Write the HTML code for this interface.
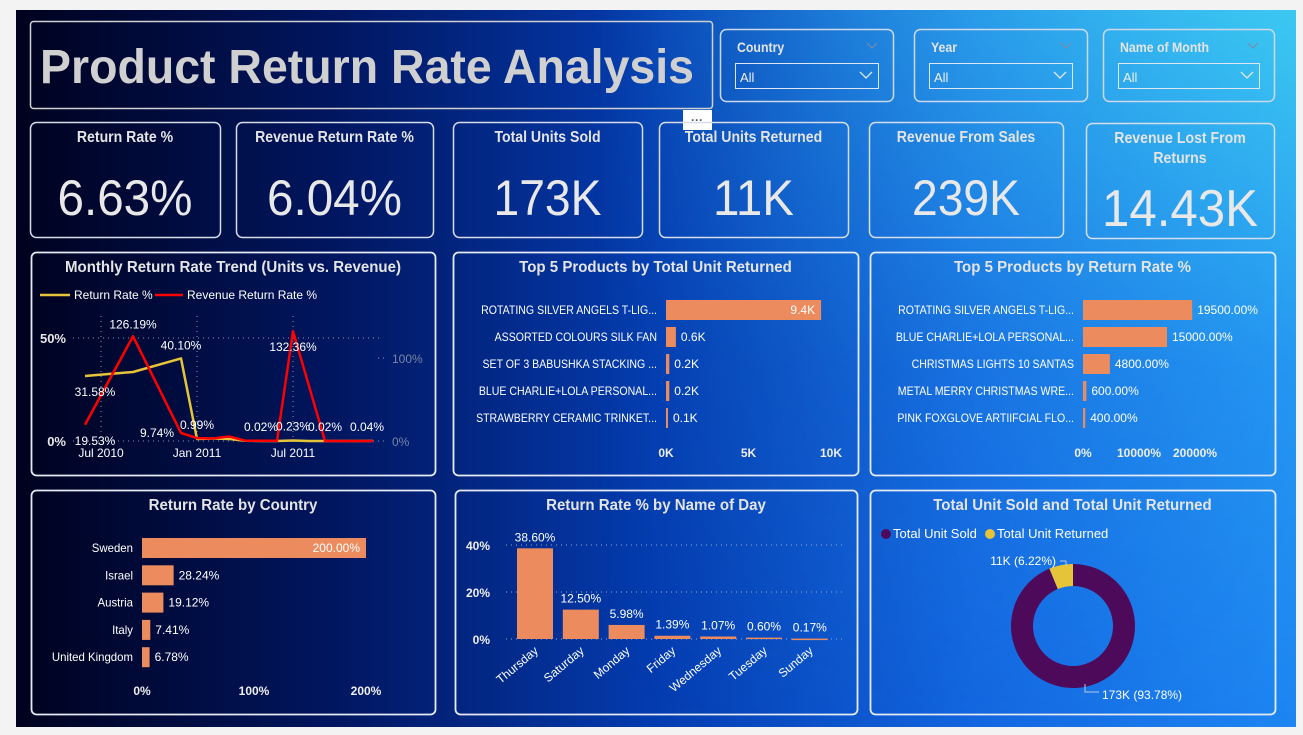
<!DOCTYPE html>
<html><head><meta charset="utf-8">
<style>
html,body{margin:0;padding:0;background:#f3f3f3;width:1303px;height:735px;overflow:hidden}
svg{display:block;font-family:"Liberation Sans",sans-serif}
.t{fill:#e4e4e4;font-weight:bold}
.w{fill:#fff}
</style></head><body>
<svg id="s" width="1303" height="735" viewBox="0 0 1303 735">
<defs>
<linearGradient id="bg" x1="0" y1="0" x2="1" y2="0">
<stop offset="0" stop-color="#00021e"/><stop offset="0.25" stop-color="#011660"/>
<stop offset="0.5" stop-color="#043cb0"/><stop offset="0.75" stop-color="#1366e0"/>
<stop offset="1" stop-color="#1d86f2"/></linearGradient>
<linearGradient id="cy" x1="0" y1="0" x2="0" y2="1">
<stop offset="0" stop-color="#3cc8f0" stop-opacity="1"/><stop offset="0.5" stop-color="#3cc8f0" stop-opacity="0.25"/><stop offset="1" stop-color="#3cc8f0" stop-opacity="0"/></linearGradient>
<linearGradient id="cx" x1="0" y1="0" x2="1" y2="0">
<stop offset="0.45" stop-color="#fff" stop-opacity="0"/><stop offset="1" stop-color="#fff" stop-opacity="1"/></linearGradient>
<mask id="m"><rect x="16" y="10" width="1280" height="717" fill="url(#cx)"/></mask>
</defs>
<rect x="16" y="10" width="1280" height="717" fill="url(#bg)"/>
<rect x="16" y="10" width="1280" height="717" fill="url(#cy)" mask="url(#m)"/>

<g>
<rect x="30.5" y="21.5" width="682" height="87" rx="3" fill="none" stroke="#d0d0d0" stroke-width="1.5"/>
<text x="40" y="83" font-size="48" font-weight="bold" fill="#d0d0d0" textLength="654" lengthAdjust="spacingAndGlyphs">Product Return Rate Analysis</text>
</g>
<g id="slicers"></g>
<rect x="683" y="110" width="29" height="20" fill="#fff"/>
<text x="697" y="124" font-size="12" text-anchor="middle" fill="#555" font-weight="bold">···</text>
<g id="kpis"></g>
<g id="panels"></g>
<g id="line"></g>
<g id="bars1"></g>
<g id="bars2"></g>
<g id="country"></g>
<g id="day"></g>
<g id="donut"></g>
</svg>
<script>
// ---- data ----
const kpiTitles=["Return Rate %","Revenue Return Rate %","Total Units Sold","Total Units Returned","Revenue From Sales","Revenue Lost From Returns"];
const kpiValues=["6.63%","6.04%","173K","11K","239K","14.43K"];
const months=["Jun 2010","Jul 2010","Aug 2010","Sep 2010","Oct 2010","Nov 2010","Dec 2010","Jan 2011","Feb 2011","Mar 2011","Apr 2011","May 2011","Jun 2011","Jul 2011","Aug 2011","Sep 2011","Oct 2011","Nov 2011","Dec 2011"];
const returnRate=[31.58,null,null,33.5,null,null,40.10,0.99,1.2,1.0,0.1,0.02,0.02,0.23,0.02,0.02,0.02,0.02,0.04];
const revenueRate=[19.53,null,null,126.19,null,null,9.74,3.5,3,5.5,0.5,0.3,0.3,132.36,null,0.02,0.02,0.02,0.04];
const top5Units=["ROTATING SILVER ANGELS T-LIG...","ASSORTED COLOURS SILK FAN","SET OF 3 BABUSHKA STACKING ...","BLUE CHARLIE+LOLA PERSONAL...","STRAWBERRY CERAMIC TRINKET..."];
const top5UnitVals=[9.4,0.6,0.2,0.2,0.1];
const top5UnitTicks=[0,5,10];
const top5Rate=["ROTATING SILVER ANGELS T-LIG...","BLUE CHARLIE+LOLA PERSONAL...","CHRISTMAS LIGHTS 10 SANTAS","METAL MERRY CHRISTMAS WRE...","PINK FOXGLOVE ARTIIFCIAL FLO..."];
const top5RateVals=[19500,15000,4800,600,400];
const top5RateTicks=[0,10000,20000];
const countries=["Sweden","Israel","Austria","Italy","United Kingdom"];
const countryVals=[200,28.24,19.12,7.41,6.78];
const countryTicks=[0,100,200];
const days=["Thursday","Saturday","Monday","Friday","Wednesday","Tuesday","Sunday"];
const dayVals=[38.60,12.50,5.98,1.39,1.07,0.60,0.17];
const dayTicks=[0,20,40];
const donutLabels=["Total Unit Sold","Total Unit Returned"];
const donutVals=[173,11.47];
const donutText=["173K (93.78%)","11K (6.22%)"];

const NS="http://www.w3.org/2000/svg";
function mk(p,tag,a,txt){const e=document.createElementNS(NS,tag);for(const k in a)e.setAttribute(k,a[k]);if(txt!==undefined)e.textContent=txt;p.appendChild(e);return e;}
function cond(e,f){const L=e.getComputedTextLength();if(L>0){e.setAttribute('textLength',L*f);e.setAttribute('lengthAdjust','spacingAndGlyphs');}return e;}
const $=id=>document.getElementById(id);

// slicers
const sl=[["Country",720,173],["Year",914,173],["Name of Month",1103,171]];
sl.forEach(s=>{const g=mk($("slicers"),"g",{});


mk(g,"rect",{x:s[1]+.5,y:29.5,width:s[2],height:72,rx:6,fill:"none",stroke:"#cfd8e8","stroke-width":1.5});
cond(mk(g,"text",{x:s[1]+17,y:52,"font-size":14,class:"t"},s[0]),0.88);
mk(g,"path",{d:`M${s[1]+s[2]-26} 43 l5 5 l5 -5`,stroke:"#7a8aa8",fill:"none","stroke-width":1.2});
mk(g,"rect",{x:s[1]+15.5,y:63.5,width:s[2]-30,height:25,fill:"none",stroke:"#dfe6f0","stroke-width":1});
mk(g,"text",{x:s[1]+20,y:82,"font-size":13,fill:"#f0f0f0"},"All");
mk(g,"path",{d:`M${s[1]+s[2]-33} 72 l6 6 l6 -6`,stroke:"#e0e8f0",fill:"none","stroke-width":1.3});
});

// KPI cards
const kb=[[30,122,190,115],[236,122,197,115],[453,122,189,115],[659,122,189,115],[869,122,194,115],[1086,123,188,115]];
kb.forEach((b,i)=>{const g=mk($("kpis"),"g",{});


mk(g,"rect",{x:b[0]+.5,y:b[1]+.5,width:b[2],height:b[3],rx:6,fill:"none",stroke:"#d6dde8","stroke-width":1.5});
const cx=b[0]+b[2]/2;
if(i==5){cond(mk(g,"text",{x:cx,y:143,"font-size":16,class:"t","text-anchor":"middle"},"Revenue Lost From"),0.88);
cond(mk(g,"text",{x:cx,y:163,"font-size":16,class:"t","text-anchor":"middle"},"Returns"),0.88);
mk(g,"text",{x:cx,y:226,"font-size":52,fill:"#e8e8e8","text-anchor":"middle",textLength:156,lengthAdjust:"spacingAndGlyphs"},kpiValues[i]);}
else{cond(mk(g,"text",{x:cx,y:142,"font-size":16,class:"t","text-anchor":"middle"},kpiTitles[i]),0.88);
const L=kpiValues[i].length*27;
mk(g,"text",{x:cx,y:215,"font-size":50,fill:"#e8e8e8","text-anchor":"middle",textLength:L,lengthAdjust:"spacingAndGlyphs"},kpiValues[i]);}
});

// panels
const pn=[[31,252,404,223,"Monthly Return Rate Trend (Units vs. Revenue)"],[453,252,405,223,"Top 5 Products by Total Unit Returned"],[870,252,405,223,"Top 5 Products by Return Rate %"],
[31,490,404,224,"Return Rate by Country"],[455,490,402,224,"Return Rate % by Name of Day"],[870,490,405,224,"Total Unit Sold and Total Unit Returned"]];
pn.forEach(p=>{const g=mk($("panels"),"g",{});


mk(g,"rect",{x:p[0]+.5,y:p[1]+.5,width:p[2],height:p[3],rx:5,fill:"none",stroke:"#e6eaf2","stroke-width":1.8});
cond(mk(g,"text",{x:p[0]+p[2]/2,y:p[1]+20,"font-size":16,class:"t","text-anchor":"middle"},p[4]),0.94);});

// line chart
(function(){const g=$("line");
const X=i=>85+16*i, YL=v=>441-v*103/50, YR=v=>441-v*83/100;
mk(g,"line",{x1:40,y1:295,x2:70,y2:295,stroke:"#e6c43a","stroke-width":2.5});
mk(g,"text",{x:74,y:299,"font-size":12,class:"w"},"Return Rate %");
mk(g,"line",{x1:155,y1:295,x2:183,y2:295,stroke:"#ff0000","stroke-width":2.5});
mk(g,"text",{x:187,y:299,"font-size":12,class:"w"},"Revenue Return Rate %");
[[50,"50%"],[0,"0%"]].forEach(t=>{mk(g,"line",{x1:73,y1:YL(t[0]),x2:380,y2:YL(t[0]),stroke:"#8c96b4","stroke-dasharray":"1 4"});
mk(g,"text",{x:66,y:YL(t[0])+5,"font-size":13,"font-weight":"bold",fill:"#e8e8e8","text-anchor":"end"},t[1]);});
[[100,"100%"],[0,"0%"]].forEach(t=>{mk(g,"line",{x1:378,y1:YR(t[0]),x2:386,y2:YR(t[0]),stroke:"#8c96b4","stroke-dasharray":"1 4"});
mk(g,"text",{x:392,y:YR(t[0])+5,"font-size":12,fill:"#7886a6"},t[1]);});
[[1,"Jul 2010"],[7,"Jan 2011"],[13,"Jul 2011"]].forEach(t=>{mk(g,"line",{x1:X(t[0]),y1:316,x2:X(t[0]),y2:441,stroke:"#8c96b4","stroke-dasharray":"1 4"});
mk(g,"text",{x:X(t[0]),y:457,"font-size":12,class:"w","text-anchor":"middle"},t[1]);});
function path(vals,Y){let d="";vals.forEach((v,i)=>{if(v===null)return;d+=(d?"L":"M")+X(i)+" "+Y(v);});return d;}
const yl=mk(g,"path",{d:path(returnRate,YL),fill:"none",stroke:"#e6c43a","stroke-width":2.5,"stroke-linejoin":"round"});


const rl=mk(g,"path",{d:path(revenueRate,YR),fill:"none",stroke:"#ff0000","stroke-width":2.5,"stroke-linejoin":"round"});


const labs=[[0,"r",10,20],[3,"r",0,-8],[6,"y",0,-9],[0,"y",10,20],[6,"r",-24,4],[7,"y",0,-10],[12,"y",-16,-10],[13,"y",0,-10],[15,"y",0,-10],[18,"y",-6,-4],[13,"r",0,20]];
labs.forEach(l=>{const v=l[1]=="r"?revenueRate[l[0]]:returnRate[l[0]];const y=l[1]=="r"?YR(v):YL(v);
let yy=y+l[3];if(l[0]>=7&&l[3]<0&&l[1]=="y")yy=Math.min(yy,431);if(l[0]==0&&l[1]=="r")yy=Math.max(yy,444);
mk(g,"text",{x:X(l[0])+l[2],y:yy,"font-size":12,class:"w","text-anchor":"middle"},v.toFixed(2)+"%");});
})();

// horizontal bars generic
function hbars(gid,cats,vals,ticks,x0,pxPer,y0,step,h,labX,fmt,tickFmt,tickY,valInside,nm,lf){const g=$(gid);
ticks.forEach(t=>{mk(g,"text",{x:x0+t*pxPer,y:tickY,"font-size":12,"font-weight":"bold",fill:"#eee","text-anchor":"middle"},tickFmt(t));});
cats.forEach((c,i)=>{const y=y0+i*step;
cond(mk(g,"text",{x:labX,y:y+4,"font-size":12,class:"w","text-anchor":"end"},c),lf);
const w=Math.max(vals[i]*pxPer,2);
const r=mk(g,"rect",{x:x0,y:y-h/2,width:w,height:h,fill:"#ec8b5e"});


if(valInside(i))mk(g,"text",{x:x0+w-6,y:y+4,"font-size":12,class:"w","text-anchor":"end"},fmt(vals[i]));
else mk(g,"text",{x:x0+w+5,y:y+4,"font-size":12,class:"w"},fmt(vals[i]));});}
hbars("bars1",top5Units,top5UnitVals,top5UnitTicks,666,16.5,310,27,20,657,v=>v.toFixed(1)+"K",t=>t+"K",457,i=>i==0,"units-returned",0.88);
hbars("bars2",top5Rate,top5RateVals,top5RateTicks,1083,0.0056,310,27,20,1074,v=>v.toFixed(2)+"%",t=>t+"%",457,i=>false,"return-rate",0.88);
hbars("country",countries,countryVals,countryTicks,142,1.12,548,27.3,20,133,v=>v.toFixed(2)+"%",t=>t+"%",695,i=>i==0,"country",0.95);

// day columns
(function(){const g=$("day");const Y=v=>639-v*2.35;
dayTicks.forEach(t=>{mk(g,"line",{x1:506,y1:Y(t),x2:846,y2:Y(t),stroke:"#9aa8d0","stroke-dasharray":"1 4"});
mk(g,"text",{x:490,y:Y(t)+5,"font-size":12,"font-weight":"bold",fill:"#eee","text-anchor":"end"},t+"%");});
days.forEach((d,i)=>{const x=517+i*45.8;const y=Y(dayVals[i]);
const r=mk(g,"rect",{x:x,y:y,width:36,height:Math.max(639-y,1.5),fill:"#ec8b5e"});


mk(g,"text",{x:x+18,y:y-7,"font-size":12,class:"w","text-anchor":"middle"},dayVals[i].toFixed(2)+"%");
mk(g,"text",{x:x+22,y:652,"font-size":12,class:"w","text-anchor":"end",transform:`rotate(-40 ${x+22} 652)`},d);});
})();

// donut
(function(){const g=$("donut");const cx=1073,cy=626,R=62,r=40;
const cols=["#4e0a5a","#e6c43a"];
mk(g,"circle",{cx:886,cy:534,r:5,fill:cols[0]});mk(g,"text",{x:893,y:538,"font-size":13,class:"w"},donutLabels[0]);
mk(g,"circle",{cx:990,cy:534,r:5,fill:cols[1]});mk(g,"text",{x:997,y:538,"font-size":13,class:"w"},donutLabels[1]);
const tot=donutVals[0]+donutVals[1];let a0=0;
donutVals.forEach((v,i)=>{const a1=a0+v/tot*2*Math.PI;
const p=(a,rad)=>[cx+rad*Math.sin(a),cy-rad*Math.cos(a)];
const [x1,y1]=p(a0,R),[x2,y2]=p(a1,R),[x3,y3]=p(a1,r),[x4,y4]=p(a0,r);const lg=(a1-a0)>Math.PI?1:0;
const s=mk(g,"path",{d:`M${x1} ${y1}A${R} ${R} 0 ${lg} 1 ${x2} ${y2}L${x3} ${y3}A${r} ${r} 0 ${lg} 0 ${x4} ${y4}Z`,fill:cols[i]});


a0=a1;});
mk(g,"path",{d:"M1060 561 h6 v5",stroke:"#b8c8e0",fill:"none"});
mk(g,"text",{x:1056,y:565,"font-size":12,class:"w","text-anchor":"end"},donutText[1]);
mk(g,"path",{d:"M1085 684 v8 h14",stroke:"#b8c8e0",fill:"none"});
mk(g,"text",{x:1102,y:699,"font-size":12,class:"w"},donutText[0]);
})();
</script>
</body></html>
